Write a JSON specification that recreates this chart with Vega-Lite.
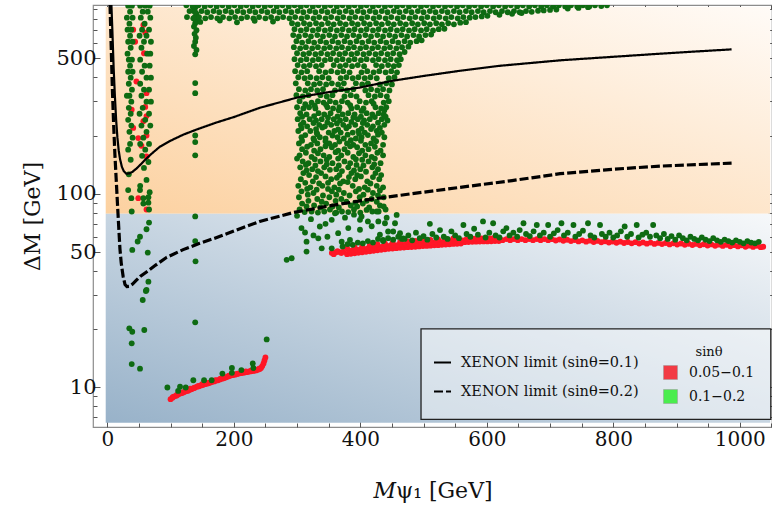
{
"$schema":"https://vega.github.io/schema/vega-lite/v6.json",
"width":679,"height":422,"autosize":"none",
"padding":{"left":93,"top":5,"right":0,"bottom":79},
"background":"white",
"config":{"view":{"stroke":"#8c8c8c","strokeWidth":1.2},"font":"DejaVu Serif",
"axis":{"domain":false,"grid":false,"tickColor":"#555","tickWidth":1,"labelFont":"DejaVu Serif","labelColor":"#111","titleFont":"DejaVu Serif","titleFontWeight":"normal","titleColor":"#111","labelOverlap":false,"labelFlush":false,"labelBound":false}},
"resolve":{"axis":{"x":"independent","y":"independent"}},
"datasets":{
"green":[
{"m":33,"d":937},{"m":39,"d":937},{"m":36,"d":872},{"m":31,"d":812},{"m":40,"d":812},{"m":35,"d":756},{"m":38,"d":704},{"m":32,"d":704},{"m":36,"d":655},{"m":33,"d":610},{"m":40,"d":610},{"m":37,"d":568},{"m":32,"d":529},{"m":39,"d":493},{"m":34,"d":493},{"m":36,"d":459},{"m":33,"d":427},{"m":40,"d":427},{"m":37,"d":398},{"m":34,"d":370},{"m":39,"d":345},{"m":35,"d":321},{"m":31,"d":321},{"m":38,"d":299},{"m":34,"d":278},{"m":37,"d":259},{"m":33,"d":241},{"m":38,"d":225},{"m":35,"d":209},{"m":40,"d":195},{"m":36,"d":181},{"m":33,"d":169},{"m":37,"d":150},{"m":34,"d":126},{"m":33,"d":104.5},{"m":38,"d":95},{"m":38.6,"d":81},
{"m":52,"d":937},{"m":60,"d":937},{"m":67,"d":937},{"m":56,"d":872},{"m":64,"d":872},{"m":53,"d":812},{"m":68,"d":812},{"m":59,"d":756},{"m":55,"d":704},{"m":66,"d":704},{"m":51,"d":655},{"m":62,"d":655},{"m":58,"d":610},{"m":69,"d":610},{"m":54,"d":568},{"m":63,"d":529},{"m":68,"d":529},{"m":52,"d":493},{"m":59,"d":459},{"m":67,"d":459},{"m":55,"d":427},{"m":62,"d":398},{"m":69,"d":398},{"m":52,"d":370},{"m":58,"d":345},{"m":66,"d":345},{"m":54,"d":321},{"m":62,"d":299},{"m":69,"d":299},{"m":56,"d":278},{"m":51,"d":259},{"m":66,"d":259},{"m":60,"d":241},{"m":54,"d":225},{"m":68,"d":225},{"m":62,"d":209},{"m":57,"d":195},{"m":66,"d":181},{"m":52,"d":181},{"m":60,"d":169},{"m":55,"d":157},{"m":65,"d":146},{"m":58,"d":136},{"m":62,"d":118},{"m":52,"d":110},{"m":67,"d":102},{"m":57,"d":89},{"m":66,"d":83},{"m":51.7,"d":104.5},{"m":57,"d":95},{"m":65,"d":90},{"m":65,"d":96},
{"m":34.8,"d":20.2},{"m":39.5,"d":19.4},{"m":38.6,"d":16.9},{"m":38.6,"d":13.2},{"m":51.7,"d":12.5},{"m":58.5,"d":19.8},{"m":56,"d":28.3},{"m":61,"d":31.5},{"m":62,"d":31.9},{"m":65,"d":35.2},{"m":64,"d":49.7},{"m":48,"d":56.7},{"m":51.7,"d":60},{"m":62,"d":65.6},{"m":66,"d":71},{"m":39.5,"d":51.3},
{"m":95,"d":10.0},{"m":112,"d":9.6},{"m":115,"d":10.1},{"m":124,"d":10.0},{"m":136,"d":10.9},{"m":153,"d":10.9},{"m":165,"d":10.9},{"m":182,"d":11.8},{"m":197,"d":12.6},{"m":197,"d":11.9},{"m":212,"d":12.3},{"m":230,"d":13.3},{"m":231,"d":12.6},{"m":252,"d":17.7},
{"m":139,"d":915},{"m":137,"d":880},{"m":141,"d":850},{"m":138,"d":815},{"m":140,"d":790},{"m":139,"d":760},{"m":137,"d":730},{"m":141,"d":700},{"m":138,"d":670},{"m":140,"d":640},{"m":139,"d":610},{"m":137,"d":580},{"m":141,"d":553},{"m":139,"d":525},{"m":139,"d":373},{"m":139,"d":331},{"m":139,"d":200},{"m":139,"d":185},{"m":139,"d":158},{"m":139,"d":76.4},{"m":139,"d":57},{"m":139.5,"d":44.8},{"m":139,"d":21.7},
{"m":125,"d":940},{"m":135,"d":928},{"m":144,"d":940},{"m":154,"d":928},{"m":163,"d":940},{"m":173,"d":928},{"m":182,"d":940},{"m":192,"d":928},{"m":201,"d":940},{"m":211,"d":928},{"m":220,"d":940},{"m":230,"d":928},{"m":239,"d":940},{"m":249,"d":928},{"m":258,"d":940},{"m":268,"d":928},{"m":277,"d":940},{"m":287,"d":928},{"m":296,"d":940},{"m":306,"d":928},{"m":315,"d":940},{"m":325,"d":928},{"m":334,"d":940},{"m":344,"d":928},{"m":353,"d":940},{"m":363,"d":928},{"m":372,"d":940},{"m":382,"d":928},{"m":391,"d":940},{"m":401,"d":928},{"m":410,"d":940},{"m":420,"d":928},{"m":429,"d":940},{"m":439,"d":928},{"m":448,"d":940},{"m":458,"d":928},{"m":467,"d":940},{"m":477,"d":928},{"m":486,"d":940},{"m":496,"d":928},{"m":505,"d":940},{"m":515,"d":928},{"m":524,"d":940},{"m":534,"d":928},{"m":543,"d":940},{"m":553,"d":928},{"m":562,"d":940},{"m":572,"d":928},{"m":581,"d":940},{"m":591,"d":928},{"m":600,"d":940},{"m":610,"d":928},{"m":619,"d":940},{"m":629,"d":928},{"m":638,"d":940},{"m":648,"d":928},{"m":657,"d":940},{"m":667,"d":928},{"m":676,"d":940},{"m":686,"d":928},{"m":695,"d":940},{"m":705,"d":928},{"m":714,"d":940},{"m":724,"d":928},{"m":733,"d":940},{"m":743,"d":928},{"m":752,"d":940},{"m":762,"d":928},{"m":771,"d":940},{"m":781,"d":932},{"m":790,"d":940},
{"m":130,"d":878},{"m":139,"d":866},{"m":149,"d":878},{"m":158,"d":866},{"m":168,"d":878},{"m":177,"d":866},{"m":187,"d":878},{"m":196,"d":866},{"m":206,"d":878},{"m":215,"d":866},{"m":225,"d":878},{"m":234,"d":866},{"m":244,"d":878},{"m":253,"d":866},{"m":263,"d":878},{"m":272,"d":866},{"m":282,"d":878},{"m":291,"d":866},{"m":301,"d":878},{"m":310,"d":866},{"m":320,"d":878},{"m":329,"d":866},{"m":339,"d":878},{"m":348,"d":866},{"m":358,"d":878},{"m":367,"d":866},{"m":377,"d":878},{"m":386,"d":866},{"m":396,"d":878},{"m":405,"d":866},{"m":415,"d":878},{"m":424,"d":866},{"m":434,"d":878},{"m":443,"d":866},{"m":453,"d":878},{"m":462,"d":866},{"m":472,"d":878},{"m":481,"d":866},{"m":491,"d":878},{"m":500,"d":866},{"m":510,"d":878},{"m":519,"d":866},{"m":529,"d":878},{"m":538,"d":866},{"m":548,"d":878},{"m":557,"d":866},{"m":567,"d":878},{"m":576,"d":866},{"m":586,"d":878},{"m":595,"d":866},{"m":605,"d":878},{"m":614,"d":866},{"m":624,"d":878},{"m":633,"d":866},{"m":643,"d":878},{"m":652,"d":866},{"m":662,"d":878},{"m":671,"d":870},{"m":681,"d":882},{"m":690,"d":885},{"m":700,"d":890},{"m":710,"d":895},{"m":728,"d":905},{"m":745,"d":912},{"m":760,"d":920},
{"m":126,"d":818},{"m":136,"d":806},{"m":145,"d":818},{"m":155,"d":806},{"m":164,"d":818},{"m":174,"d":806},{"m":183,"d":818},{"m":193,"d":806},{"m":202,"d":818},{"m":212,"d":806},{"m":221,"d":818},{"m":231,"d":806},{"m":240,"d":818},{"m":250,"d":806},{"m":259,"d":818},{"m":269,"d":806},{"m":278,"d":818},{"m":288,"d":806},{"m":297,"d":818},{"m":307,"d":806},{"m":316,"d":818},{"m":326,"d":806},{"m":335,"d":818},{"m":345,"d":806},{"m":354,"d":818},{"m":364,"d":806},{"m":373,"d":818},{"m":383,"d":806},{"m":392,"d":818},{"m":402,"d":806},{"m":411,"d":818},{"m":421,"d":806},{"m":430,"d":818},{"m":440,"d":806},{"m":449,"d":818},{"m":459,"d":806},{"m":468,"d":818},{"m":478,"d":806},{"m":487,"d":818},{"m":497,"d":806},{"m":506,"d":818},{"m":516,"d":806},{"m":525,"d":818},{"m":535,"d":806},{"m":544,"d":818},{"m":554,"d":806},{"m":563,"d":818},{"m":573,"d":812},{"m":582,"d":818},{"m":592,"d":824},{"m":601,"d":830},{"m":620,"d":840},{"m":640,"d":850},{"m":655,"d":858},
{"m":147,"d":772},{"m":205,"d":768},{"m":262,"d":775},{"m":178,"d":785},{"m":233,"d":783},
{"m":292,"d":760},{"m":301,"d":750},{"m":311,"d":760},{"m":320,"d":750},{"m":330,"d":760},{"m":339,"d":750},{"m":349,"d":760},{"m":358,"d":750},{"m":368,"d":760},{"m":377,"d":750},{"m":387,"d":760},{"m":396,"d":750},{"m":406,"d":760},{"m":415,"d":750},{"m":425,"d":760},{"m":434,"d":750},{"m":444,"d":760},{"m":453,"d":750},{"m":463,"d":760},{"m":472,"d":750},{"m":482,"d":760},{"m":491,"d":750},{"m":501,"d":760},{"m":510,"d":750},{"m":520,"d":760},{"m":529,"d":750},{"m":539,"d":760},{"m":548,"d":750},{"m":558,"d":765},{"m":567,"d":770},
{"m":296,"d":708},{"m":306,"d":698},{"m":315,"d":708},{"m":325,"d":698},{"m":334,"d":708},{"m":344,"d":698},{"m":353,"d":708},{"m":363,"d":698},{"m":372,"d":708},{"m":382,"d":698},{"m":391,"d":708},{"m":401,"d":698},{"m":410,"d":708},{"m":420,"d":698},{"m":429,"d":708},{"m":439,"d":698},{"m":448,"d":708},{"m":458,"d":698},{"m":467,"d":708},{"m":477,"d":698},{"m":486,"d":708},{"m":496,"d":698},{"m":505,"d":708},{"m":515,"d":698},{"m":524,"d":708},{"m":533,"d":712},
{"m":294,"d":660},{"m":303,"d":650},{"m":313,"d":660},{"m":322,"d":650},{"m":332,"d":660},{"m":341,"d":650},{"m":351,"d":660},{"m":360,"d":650},{"m":370,"d":660},{"m":379,"d":650},{"m":389,"d":660},{"m":398,"d":650},{"m":408,"d":660},{"m":417,"d":650},{"m":427,"d":660},{"m":436,"d":650},{"m":446,"d":660},{"m":455,"d":650},{"m":465,"d":660},{"m":474,"d":650},{"m":484,"d":660},{"m":493,"d":650},{"m":503,"d":660},{"m":512,"d":665},
{"m":299,"d":614},{"m":308,"d":604},{"m":318,"d":614},{"m":327,"d":604},{"m":337,"d":614},{"m":346,"d":604},{"m":356,"d":614},{"m":365,"d":604},{"m":375,"d":614},{"m":384,"d":604},{"m":394,"d":614},{"m":403,"d":604},{"m":413,"d":614},{"m":422,"d":604},{"m":432,"d":614},{"m":441,"d":604},{"m":451,"d":614},{"m":460,"d":604},{"m":470,"d":614},{"m":479,"d":604},{"m":489,"d":614},{"m":497,"d":620},
{"m":295,"d":572},{"m":305,"d":564},{"m":314,"d":572},{"m":324,"d":564},{"m":333,"d":572},{"m":343,"d":564},{"m":352,"d":572},{"m":362,"d":564},{"m":371,"d":572},{"m":381,"d":564},{"m":390,"d":572},{"m":400,"d":564},{"m":409,"d":572},{"m":419,"d":564},{"m":428,"d":572},{"m":438,"d":564},{"m":447,"d":572},{"m":457,"d":564},{"m":466,"d":572},{"m":476,"d":575},
{"m":300,"d":532},{"m":310,"d":526},{"m":319,"d":532},{"m":329,"d":526},{"m":338,"d":532},{"m":348,"d":526},{"m":357,"d":532},{"m":367,"d":526},{"m":376,"d":532},{"m":386,"d":526},{"m":395,"d":532},{"m":405,"d":526},{"m":414,"d":532},{"m":424,"d":526},{"m":433,"d":532},{"m":443,"d":526},{"m":452,"d":532},{"m":462,"d":526},{"m":470,"d":540},
{"m":296,"d":496},{"m":306,"d":490},{"m":315,"d":496},{"m":325,"d":490},{"m":334,"d":496},{"m":344,"d":490},{"m":353,"d":496},{"m":363,"d":490},{"m":372,"d":496},{"m":382,"d":490},{"m":391,"d":496},{"m":401,"d":490},{"m":410,"d":496},{"m":420,"d":490},{"m":429,"d":496},{"m":439,"d":490},{"m":448,"d":496},{"m":458,"d":490},{"m":464,"d":496},
{"m":301,"d":462},{"m":311,"d":456},{"m":320,"d":462},{"m":330,"d":456},{"m":339,"d":462},{"m":358,"d":462},{"m":368,"d":456},{"m":377,"d":462},{"m":387,"d":456},{"m":396,"d":462},{"m":406,"d":456},{"m":425,"d":462},{"m":434,"d":456},{"m":444,"d":462},{"m":453,"d":456},{"m":461,"d":462},
{"m":297,"d":430},{"m":307,"d":424},{"m":316,"d":430},{"m":335,"d":430},{"m":345,"d":424},{"m":354,"d":430},{"m":364,"d":424},{"m":373,"d":430},{"m":383,"d":424},{"m":402,"d":424},{"m":411,"d":430},{"m":421,"d":424},{"m":430,"d":430},{"m":440,"d":424},{"m":449,"d":430},{"m":458,"d":424},
{"m":302,"d":400},{"m":312,"d":395},{"m":321,"d":400},{"m":331,"d":395},{"m":340,"d":400},{"m":350,"d":395},{"m":369,"d":395},{"m":378,"d":400},{"m":388,"d":395},{"m":397,"d":400},{"m":407,"d":395},{"m":416,"d":400},{"m":426,"d":395},{"m":445,"d":395},{"m":454,"d":400},
{"m":298,"d":372},{"m":317,"d":372},{"m":327,"d":367},{"m":336,"d":372},{"m":346,"d":367},{"m":355,"d":372},{"m":365,"d":367},{"m":374,"d":372},{"m":393,"d":372},{"m":403,"d":367},{"m":412,"d":372},{"m":431,"d":367},{"m":441,"d":372},{"m":450,"d":367},
{"m":303,"d":347},{"m":313,"d":342},{"m":322,"d":347},{"m":332,"d":342},{"m":341,"d":347},{"m":360,"d":342},{"m":370,"d":347},{"m":379,"d":342},{"m":389,"d":347},{"m":408,"d":342},{"m":417,"d":347},{"m":427,"d":342},{"m":436,"d":347},{"m":446,"d":342},
{"m":299,"d":323},{"m":309,"d":318},{"m":318,"d":323},{"m":337,"d":323},{"m":347,"d":318},{"m":356,"d":323},{"m":375,"d":318},{"m":385,"d":323},{"m":394,"d":318},{"m":413,"d":323},{"m":423,"d":318},{"m":432,"d":323},{"m":442,"d":318},
{"m":304,"d":301},{"m":323,"d":296},{"m":333,"d":301},{"m":342,"d":296},{"m":352,"d":301},{"m":361,"d":296},{"m":371,"d":301},{"m":380,"d":296},{"m":399,"d":301},{"m":409,"d":296},{"m":418,"d":301},{"m":437,"d":296},{"m":445,"d":301},
{"m":300,"d":280},{"m":310,"d":276},{"m":319,"d":280},{"m":329,"d":276},{"m":348,"d":280},{"m":357,"d":276},{"m":367,"d":280},{"m":386,"d":276},{"m":395,"d":280},{"m":405,"d":276},{"m":424,"d":280},{"m":433,"d":276},{"m":441,"d":280},
{"m":305,"d":261},{"m":315,"d":257},{"m":334,"d":261},{"m":343,"d":257},{"m":353,"d":261},{"m":372,"d":257},{"m":381,"d":261},{"m":391,"d":257},{"m":410,"d":261},{"m":419,"d":257},{"m":429,"d":261},{"m":437,"d":257},
{"m":301,"d":243},{"m":320,"d":243},{"m":330,"d":239},{"m":339,"d":243},{"m":358,"d":243},{"m":368,"d":239},{"m":377,"d":243},{"m":396,"d":243},{"m":406,"d":239},{"m":415,"d":243},{"m":434,"d":243},{"m":443,"d":239},
{"m":306,"d":227},{"m":316,"d":223},{"m":335,"d":227},{"m":344,"d":223},{"m":354,"d":227},{"m":373,"d":227},{"m":382,"d":223},{"m":392,"d":227},{"m":411,"d":227},{"m":420,"d":223},{"m":438,"d":227},
{"m":302,"d":211},{"m":321,"d":211},{"m":331,"d":207},{"m":350,"d":207},{"m":359,"d":211},{"m":369,"d":207},{"m":388,"d":207},{"m":397,"d":211},{"m":407,"d":207},{"m":426,"d":211},{"m":434,"d":207},
{"m":307,"d":196},{"m":326,"d":193},{"m":336,"d":196},{"m":345,"d":193},{"m":364,"d":196},{"m":374,"d":193},{"m":393,"d":193},{"m":402,"d":196},{"m":421,"d":193},{"m":438,"d":196},
{"m":303,"d":182},{"m":322,"d":179},{"m":332,"d":182},{"m":351,"d":182},{"m":360,"d":179},{"m":379,"d":182},{"m":389,"d":179},{"m":408,"d":179},{"m":417,"d":182},{"m":436,"d":179},
{"m":308,"d":170},{"m":327,"d":167},{"m":337,"d":170},{"m":365,"d":167},{"m":375,"d":170},{"m":403,"d":167},{"m":413,"d":170},{"m":432,"d":167},
{"m":304,"d":158},{"m":323,"d":155},{"m":342,"d":158},{"m":351,"d":155},{"m":370,"d":158},{"m":389,"d":155},{"m":408,"d":158},{"m":418,"d":155},{"m":436,"d":158},
{"m":309,"d":147},{"m":318,"d":144},{"m":337,"d":147},{"m":356,"d":144},{"m":375,"d":147},{"m":384,"d":144},{"m":413,"d":147},{"m":432,"d":144},
{"m":305,"d":137},{"m":324,"d":134},{"m":343,"d":137},{"m":362,"d":134},{"m":381,"d":137},{"m":400,"d":134},{"m":419,"d":137},{"m":428,"d":134},
{"m":310,"d":128},{"m":319,"d":125},{"m":338,"d":128},{"m":367,"d":125},{"m":386,"d":128},{"m":395,"d":125},{"m":424,"d":128},{"m":433,"d":125},
{"m":306,"d":119},{"m":325,"d":116},{"m":354,"d":119},{"m":373,"d":116},{"m":392,"d":119},{"m":411,"d":116},{"m":430,"d":119},
{"m":302,"d":110},{"m":321,"d":108},{"m":340,"d":110},{"m":359,"d":108},{"m":388,"d":110},{"m":407,"d":108},{"m":426,"d":110},{"m":436,"d":108},
{"m":307,"d":103},{"m":326,"d":101},{"m":355,"d":103},{"m":374,"d":101},{"m":393,"d":103},{"m":420,"d":101},
{"m":303,"d":96},{"m":332,"d":94},{"m":351,"d":96},{"m":370,"d":94},{"m":399,"d":96},{"m":418,"d":94},{"m":437,"d":96},
{"m":308,"d":89},{"m":327,"d":87},{"m":346,"d":89},{"m":385,"d":87},{"m":404,"d":89},{"m":431,"d":87},
{"m":304,"d":83},{"m":323,"d":81},{"m":352,"d":83},{"m":371,"d":81},{"m":390,"d":83},{"m":419,"d":81},{"m":440,"d":83},
{"m":313,"d":290},{"m":328,"d":285},{"m":346,"d":288},{"m":366,"d":270},{"m":384,"d":287},{"m":402,"d":268},{"m":421,"d":292},{"m":438,"d":270},
{"m":308,"d":250},{"m":327,"d":252},{"m":349,"d":248},{"m":364,"d":251},{"m":389,"d":248},{"m":401,"d":250},{"m":423,"d":249},{"m":440,"d":250},
{"m":310,"d":233},{"m":326,"d":232},{"m":348,"d":234},{"m":363,"d":231},{"m":386,"d":235},{"m":404,"d":232},{"m":428,"d":233},
{"m":307,"d":218},{"m":330,"d":216},{"m":340,"d":220},{"m":365,"d":215},{"m":378,"d":218},{"m":402,"d":217},{"m":417,"d":216},{"m":431,"d":219},
{"m":313,"d":201},{"m":332,"d":203},{"m":356,"d":200},{"m":380,"d":202},{"m":398,"d":204},{"m":412,"d":201},{"m":428,"d":202},
{"m":308,"d":188},{"m":327,"d":189},{"m":345,"d":187},{"m":367,"d":186},{"m":385,"d":189},{"m":401,"d":188},{"m":425,"d":187},
{"m":316,"d":175},{"m":345,"d":176},{"m":355,"d":174},{"m":384,"d":176},{"m":395,"d":174},{"m":423,"d":175},
{"m":314,"d":163},{"m":333,"d":162},{"m":361,"d":164},{"m":380,"d":163},{"m":398,"d":162},{"m":427,"d":163},
{"m":300,"d":152},{"m":328,"d":151},{"m":347,"d":150},{"m":365,"d":152},{"m":393,"d":151},{"m":403,"d":150},{"m":423,"d":152},
{"m":314,"d":141},{"m":329,"d":140},{"m":347,"d":142},{"m":366,"d":140},{"m":394,"d":141},{"m":405,"d":140},{"m":422,"d":142},
{"m":315,"d":132},{"m":333,"d":131},{"m":352,"d":133},{"m":371,"d":131},{"m":390,"d":132},{"m":409,"d":130},
{"m":330,"d":122},{"m":345,"d":123},{"m":363,"d":121},{"m":382,"d":122},{"m":401,"d":123},{"m":420,"d":122},
{"m":313,"d":114},{"m":335,"d":113},{"m":349,"d":114},{"m":368,"d":113},{"m":380,"d":115},{"m":416,"d":113},
{"m":316,"d":106},{"m":331,"d":105},{"m":349,"d":106},{"m":366,"d":105},{"m":398,"d":106},{"m":412,"d":105},{"m":431,"d":104},
{"m":317,"d":99},{"m":341,"d":98},{"m":362,"d":99},{"m":383,"d":98},{"m":405,"d":99},{"m":428,"d":98},
{"m":318,"d":92},{"m":339,"d":91},{"m":361,"d":92},{"m":378,"d":91},{"m":392,"d":90},{"m":410,"d":92},{"m":426,"d":91},
{"m":315,"d":86},{"m":337,"d":85},{"m":356,"d":86},{"m":366,"d":85},{"m":395,"d":86},{"m":414,"d":85},{"m":437,"d":86},
{"m":312,"d":80.5},{"m":333,"d":80},{"m":343,"d":81},{"m":362,"d":80},{"m":381,"d":80.5},{"m":400,"d":80},{"m":429,"d":81},
{"m":307,"d":66.5},{"m":312.6,"d":63.1},{"m":336,"d":67.8},{"m":333.6,"d":58.9},{"m":339,"d":52.3},{"m":315,"d":56.6},{"m":315,"d":50.3},{"m":283.6,"d":45.6},{"m":291.5,"d":46.5},{"m":354.8,"d":52.3},{"m":365,"d":62.6},{"m":370.6,"d":56.6},{"m":354.8,"d":73.4},{"m":375.8,"d":75.3},{"m":399.5,"d":73.4},{"m":399.5,"d":65.2},{"m":381,"d":66.5},{"m":383.7,"d":57.8},{"m":402,"d":76.4},{"m":428.5,"d":72},{"m":441.7,"d":75.3},{"m":439,"d":70.5},{"m":454.9,"d":70.5},{"m":457.5,"d":77.8},{"m":452,"d":63.9},{"m":444,"d":63.9},{"m":431,"d":61.5},{"m":436,"d":57.8},{"m":462.8,"d":62.6},{"m":468,"d":58.9},{"m":410,"d":82.6},{"m":360,"d":79.4},{"m":426,"d":81},{"m":322,"d":74},{"m":345,"d":70},{"m":390,"d":78},{"m":418,"d":68},{"m":326,"d":61},{"m":348,"d":60},{"m":300,"d":77},{"m":412,"d":72},
{"m":372,"d":53.5},{"m":380,"d":55},{"m":388,"d":54.5},{"m":396,"d":56},{"m":404,"d":55.5},{"m":412,"d":57},{"m":420,"d":56},{"m":428,"d":58.5},{"m":436,"d":57},{"m":444,"d":59},{"m":452,"d":58},{"m":460,"d":60},{"m":466,"d":58.5},
{"m":470,"d":58.5},{"m":476,"d":61},{"m":482,"d":57.5},{"m":488,"d":63},{"m":494,"d":59},{"m":500,"d":60.5},{"m":506,"d":58},{"m":510,"d":70},{"m":514,"d":62},{"m":520,"d":59.5},{"m":526,"d":65},{"m":532,"d":60},{"m":538,"d":58.5},{"m":544,"d":64},{"m":550,"d":61},{"m":556,"d":59},{"m":563,"d":69},{"m":568,"d":62},{"m":574,"d":60},{"m":580,"d":66},{"m":586,"d":61.5},{"m":594,"d":72},{"m":598,"d":59.5},{"m":604,"d":63},{"m":610,"d":70.5},{"m":614,"d":61},{"m":620,"d":59.5},{"m":626,"d":64},{"m":631,"d":66.5},{"m":636,"d":61},{"m":642,"d":63},{"m":648,"d":60},{"m":652,"d":65},{"m":658,"d":70.5},{"m":662,"d":62},{"m":668,"d":60.5},{"m":674,"d":64},{"m":679,"d":69},{"m":684,"d":61},{"m":690,"d":63},{"m":697,"d":69},{"m":700,"d":60},{"m":706,"d":62.5},{"m":712,"d":65},{"m":718,"d":70.5},{"m":722,"d":61},{"m":728,"d":63},{"m":737,"d":69},{"m":740,"d":60},{"m":746,"d":62},{"m":752,"d":64.5},{"m":760,"d":70.5},{"m":764,"d":61},{"m":770,"d":59.5},{"m":779,"d":69},{"m":782,"d":62},{"m":788,"d":60},{"m":794,"d":63},{"m":800,"d":59.5},{"m":806,"d":61},{"m":812,"d":64},{"m":818,"d":67.8},{"m":822,"d":60},{"m":828,"d":62},{"m":837,"d":69},{"m":840,"d":59.5},{"m":846,"d":61.5},{"m":852,"d":63},{"m":858,"d":60},{"m":863,"d":69},{"m":868,"d":61},{"m":874,"d":59},{"m":880,"d":62},{"m":886,"d":58.5},{"m":892,"d":60.5},{"m":898,"d":58},{"m":904,"d":61},{"m":910,"d":59},{"m":916,"d":57.5},{"m":922,"d":60},{"m":928,"d":58.5},{"m":934,"d":57.5},{"m":940,"d":59.5},{"m":946,"d":58},{"m":952,"d":57},{"m":958,"d":59},{"m":964,"d":57.5},{"m":970,"d":56.5},{"m":976,"d":58},{"m":982,"d":57},{"m":988,"d":56},{"m":994,"d":57.5},{"m":1000,"d":56.5},{"m":1006,"d":55.5},{"m":1012,"d":57},{"m":1018,"d":56},{"m":1024,"d":55.5},{"m":1030,"d":56.5}
],
"red":[
{"m":100,"d":8.7},{"m":103,"d":8.85},{"m":106,"d":9.0},{"m":109,"d":9.05},{"m":112,"d":9.2},{"m":115,"d":9.3},{"m":118,"d":9.35},{"m":121,"d":9.45},{"m":124,"d":9.55},{"m":127,"d":9.6},{"m":130,"d":9.7},{"m":133,"d":9.8},{"m":136,"d":9.9},{"m":139,"d":10.0},{"m":142,"d":10.1},{"m":145,"d":10.15},{"m":148,"d":10.25},{"m":151,"d":10.3},{"m":154,"d":10.4},{"m":157,"d":10.45},{"m":160,"d":10.5},{"m":163,"d":10.6},{"m":166,"d":10.7},{"m":169,"d":10.75},{"m":172,"d":10.85},{"m":175,"d":10.9},{"m":178,"d":11.0},{"m":181,"d":11.1},{"m":184,"d":11.15},{"m":187,"d":11.25},{"m":190,"d":11.35},{"m":193,"d":11.45},{"m":196,"d":11.55},{"m":199,"d":11.6},{"m":202,"d":11.65},{"m":205,"d":11.75},{"m":208,"d":11.8},{"m":211,"d":11.85},{"m":214,"d":11.9},{"m":217,"d":11.95},{"m":220,"d":12.0},{"m":223,"d":12.05},{"m":226,"d":12.1},{"m":229,"d":12.15},{"m":232,"d":12.2},{"m":235,"d":12.25},{"m":238,"d":12.35},{"m":241,"d":12.45},{"m":243,"d":12.6},{"m":245,"d":12.9},{"m":247,"d":13.3},{"m":248.5,"d":13.8},{"m":250,"d":14.3},
{"m":104,"d":8.95},{"m":110,"d":9.15},{"m":117,"d":9.4},{"m":123,"d":9.6},{"m":131,"d":9.85},{"m":137,"d":9.95},{"m":144,"d":10.2},{"m":150,"d":10.4},{"m":158,"d":10.55},{"m":165,"d":10.75},{"m":171,"d":10.9},{"m":179,"d":11.1},{"m":186,"d":11.3},{"m":192,"d":11.5},{"m":198,"d":11.7},{"m":206,"d":11.8},{"m":213,"d":12.0},{"m":219,"d":12.1},{"m":227,"d":12.2},{"m":234,"d":12.35},{"m":240,"d":12.5},
{"m":41,"d":704},{"m":44,"d":610},{"m":57,"d":745},{"m":60,"d":680},{"m":46,"d":380},{"m":62,"d":331},{"m":60,"d":281},{"m":62,"d":252},{"m":57,"d":237},{"m":41,"d":219},{"m":62,"d":200},{"m":62,"d":156},{"m":49,"d":194},{"m":49,"d":95},{"m":62,"d":83},{"m":54,"d":177},{"m":58,"d":532},{"m":38.6,"d":272},
{"m":355,"d":49.5},{"m":361,"d":49.8},{"m":367,"d":50.0},{"m":373,"d":50.3},{"m":358,"d":48.8},{"m":364,"d":50.6},{"m":370,"d":49.4},
{"m":379,"d":48.8},{"m":385,"d":49.0},{"m":391,"d":49.3},{"m":397,"d":49.6},{"m":403,"d":49.9},{"m":409,"d":50.2},{"m":415,"d":50.5},{"m":421,"d":50.8},{"m":427,"d":51.1},{"m":433,"d":51.4},{"m":439,"d":51.7},{"m":445,"d":52.0},{"m":451,"d":52.2},{"m":457,"d":52.4},{"m":463,"d":52.6},{"m":469,"d":52.8},{"m":475,"d":53.0},{"m":481,"d":53.1},{"m":487,"d":53.3},{"m":493,"d":53.5},{"m":499,"d":53.7},{"m":505,"d":53.8},{"m":511,"d":54.0},{"m":517,"d":54.2},{"m":523,"d":54.3},{"m":529,"d":54.5},{"m":535,"d":54.7},{"m":541,"d":54.9},{"m":547,"d":55.1},{"m":553,"d":55.2},{"m":559,"d":55.4},
{"m":382,"d":50.9},{"m":388,"d":51.1},{"m":394,"d":51.4},{"m":400,"d":51.7},{"m":406,"d":52.0},{"m":412,"d":52.3},{"m":418,"d":52.6},{"m":424,"d":52.9},{"m":430,"d":53.2},{"m":436,"d":53.5},{"m":442,"d":53.8},{"m":448,"d":54.1},{"m":454,"d":54.3},{"m":460,"d":54.5},{"m":466,"d":54.7},{"m":472,"d":54.9},{"m":478,"d":55.1},{"m":484,"d":55.2},{"m":490,"d":55.4},{"m":496,"d":55.6},{"m":502,"d":55.7},{"m":508,"d":55.9},{"m":514,"d":56.1},{"m":520,"d":56.2},{"m":526,"d":56.4},{"m":532,"d":56.6},{"m":538,"d":56.8},{"m":544,"d":57.0},{"m":550,"d":57.1},{"m":556,"d":57.3},{"m":562,"d":57.4},
{"m":379,"d":52.6},{"m":391,"d":53.1},{"m":403,"d":53.7},{"m":415,"d":54.3},{"m":427,"d":54.9},{"m":439,"d":55.5},{"m":451,"d":56.0},{"m":463,"d":56.4},{"m":475,"d":56.8},{"m":487,"d":57.1},{"m":499,"d":57.5},{"m":511,"d":57.8},{"m":523,"d":58.1},{"m":535,"d":58.5},{"m":547,"d":58.9},
{"m":565,"d":56.3},{"m":571,"d":56.4},{"m":577,"d":56.5},{"m":583,"d":56.6},{"m":589,"d":56.7},{"m":595,"d":56.8},{"m":601,"d":56.8},{"m":607,"d":56.9},{"m":613,"d":57.0},{"m":619,"d":57.0},{"m":568,"d":58.4},{"m":574,"d":58.5},{"m":580,"d":58.6},{"m":586,"d":58.7},{"m":592,"d":58.8},{"m":598,"d":58.8},{"m":604,"d":58.9},{"m":610,"d":59.0},{"m":616,"d":59.0},
{"m":625,"d":57.6},{"m":631,"d":58.4},{"m":637,"d":57.6},{"m":643,"d":58.4},{"m":649,"d":57.6},{"m":655,"d":58.4},{"m":661,"d":57.6},{"m":667,"d":58.4},{"m":673,"d":57.6},{"m":679,"d":58.4},{"m":685,"d":57.6},{"m":691,"d":58.4},{"m":697,"d":57.6},{"m":703,"d":58.3},{"m":709,"d":57.4},{"m":715,"d":58.1},{"m":721,"d":57.2},{"m":727,"d":57.9},{"m":733,"d":57.0},{"m":739,"d":57.7},{"m":745,"d":56.8},{"m":751,"d":57.5},{"m":757,"d":56.6},{"m":763,"d":57.3},{"m":769,"d":56.4},{"m":775,"d":57.1},{"m":781,"d":56.2},{"m":787,"d":56.9},{"m":793,"d":56.0},{"m":799,"d":56.7},{"m":805,"d":55.9},{"m":811,"d":56.6},{"m":817,"d":55.7},{"m":823,"d":56.4},{"m":829,"d":55.5},{"m":835,"d":56.3},{"m":841,"d":55.4},{"m":847,"d":56.1},{"m":853,"d":55.3},{"m":859,"d":56.0},{"m":865,"d":55.1},{"m":871,"d":55.8},{"m":877,"d":55.0},{"m":883,"d":55.7},{"m":889,"d":54.8},{"m":895,"d":55.5},{"m":901,"d":54.7},{"m":907,"d":55.4},{"m":913,"d":54.5},{"m":919,"d":55.2},{"m":925,"d":54.4},{"m":931,"d":55.1},{"m":937,"d":54.2},{"m":943,"d":54.9},{"m":949,"d":54.1},{"m":955,"d":54.8},{"m":961,"d":53.9},{"m":967,"d":54.6},{"m":973,"d":53.8},{"m":979,"d":54.5},{"m":985,"d":53.6},{"m":991,"d":54.3},{"m":997,"d":53.5},{"m":1003,"d":54.2},{"m":1009,"d":53.3},{"m":1015,"d":54.0},{"m":1021,"d":53.2},{"m":1027,"d":53.9},{"m":1033,"d":53.0},{"m":1037,"d":53.3}
],
"solid":[
{"m":6.5,"d":944},{"m":8,"d":700},{"m":10,"d":450},{"m":12,"d":320},{"m":14,"d":240},{"m":16,"d":195},{"m":18,"d":168},{"m":20,"d":152},{"m":23,"d":138},{"m":26,"d":131},{"m":30,"d":127},{"m":35,"d":127.5},{"m":40,"d":130},{"m":46,"d":135},{"m":52,"d":141},{"m":60,"d":150},{"m":70,"d":161},{"m":83,"d":175},{"m":100,"d":188},{"m":120,"d":202},{"m":140,"d":214},{"m":170,"d":232},{"m":200,"d":249},{"m":241,"d":278},{"m":300,"d":314},{"m":350,"d":335},{"m":400,"d":354},{"m":450,"d":383},{"m":500,"d":406},{"m":558,"d":432},{"m":620,"d":458},{"m":716,"d":489},{"m":800,"d":510},{"m":874,"d":529},{"m":930,"d":543},{"m":987,"d":557}
],
"dashed":[
{"m":4.3,"d":944},{"m":6,"d":600},{"m":8,"d":350},{"m":10,"d":230},{"m":12,"d":160},{"m":14,"d":120},{"m":16,"d":90},{"m":18,"d":68},{"m":20,"d":52},{"m":22,"d":44},{"m":25,"d":37.5},{"m":28,"d":34},{"m":31,"d":33.2},{"m":35,"d":33.3},{"m":40,"d":34.2},{"m":46,"d":35.8},{"m":52,"d":37.4},{"m":62,"d":39.5},{"m":75,"d":42.5},{"m":94,"d":47},{"m":120,"d":51.5},{"m":146,"d":55.5},{"m":170,"d":59},{"m":199,"d":64},{"m":241,"d":72},{"m":294,"d":80},{"m":350,"d":86.5},{"m":400,"d":92},{"m":480,"d":100},{"m":558,"d":108},{"m":640,"d":117},{"m":716,"d":127},{"m":800,"d":134},{"m":874,"d":139},{"m":930,"d":141.5},{"m":987,"d":144}
],
"legendkeys":[{"s":"0.05−0.1"},{"s":"0.1−0.2"}]
},
"layer":[
{"data":{"values":[{}]},
"mark":{"type":"rect","clip":true,"fill":{"gradient":"linear","x1":0,"y1":1,"x2":1,"y2":0,"stops":[{"offset":0,"color":"#fcd1a0"},{"offset":1,"color":"#fffbf7"}]}},
"encoding":{
"x":{"datum":-2.5,"type":"quantitative","scale":{"domain":[-22.6,1050.9],"nice":false,"zero":false},
"axis":{"orient":"top","labels":false,"title":null,"values":[0,50,100,150,200,250,300,350,400,450,500,550,600,650,700,750,800,850,900,950,1000,1050],"tickSize":{"condition":{"test":"datum.value % 200 === 0","value":-7},"value":-4}}},
"x2":{"datum":1048},
"y":{"datum":79,"type":"quantitative","scale":{"type":"log","domain":[6.25,944],"nice":false},
"axis":{"orient":"right","labels":false,"title":null,"values":[7,8,9,10,20,30,40,50,60,70,80,90,100,200,300,400,500,600,700,800,900],"tickSize":{"condition":{"test":"indexof([10,50,100,500], datum.value) >= 0","value":-7},"value":-4}}},
"y2":{"datum":922}}},
{"data":{"values":[{}]},
"mark":{"type":"rect","clip":true,"fill":{"gradient":"linear","x1":0,"y1":1,"x2":1,"y2":0,"stops":[{"offset":0,"color":"#98b2c9"},{"offset":1,"color":"#f6f8fa"}]}},
"encoding":{"x":{"datum":-2.5,"type":"quantitative","axis":null},"x2":{"datum":1048},"y":{"datum":6.58,"type":"quantitative","axis":null},"y2":{"datum":79}}},
{"data":{"name":"red"},
"mark":{"type":"circle","size":34,"opacity":1,"color":"#ff1626","clip":true},
"encoding":{
"x":{"field":"m","type":"quantitative","axis":{"orient":"bottom","title":"𝑀ψ₁ [GeV]","titleFontSize":22,"titlePadding":28,"labelFontSize":20,"labelPadding":9,"values":[0,50,100,150,200,250,300,350,400,450,500,550,600,650,700,750,800,850,900,950,1000,1050],"labelExpr":"datum.value % 200 === 0 ? format(datum.value, 'd') : ''","tickSize":{"condition":{"test":"datum.value % 200 === 0","value":-7},"value":-4}}},
"y":{"field":"d","type":"quantitative","axis":{"orient":"left","title":"ΔM [GeV]","titleFontSize":22,"titlePadding":11,"labelFontSize":21,"labelPadding":4,"values":[7,8,9,10,20,30,40,50,60,70,80,90,100,200,300,400,500,600,700,800,900],"labelExpr":"indexof([10,50,100,500], datum.value) >= 0 ? format(datum.value, 'd') : ''","tickSize":{"condition":{"test":"indexof([10,50,100,500], datum.value) >= 0","value":-7},"value":-4}}}}},
{"data":{"name":"green"},
"mark":{"type":"circle","size":34,"opacity":1,"color":"#0e6b12","clip":true},
"encoding":{
"x":{"field":"m","type":"quantitative","axis":null},
"y":{"field":"d","type":"quantitative","axis":null}}},
{"data":{"name":"legendkeys"},
"mark":{"type":"square","size":0,"opacity":0},
"encoding":{
"color":{"field":"s","type":"nominal","scale":{"domain":["0.05−0.1","0.1−0.2"],"range":["#f23b45","#4aed4e"]},
"legend":{"orient":"none","legendX":570,"legendY":341,"title":"sinθ","titleFontSize":13,"titleFontWeight":"normal","titleFont":"DejaVu Serif","titleColor":"#111","titleAnchor":"middle","titleAlign":"center","titlePadding":6,"symbolType":"square","symbolSize":196,"symbolOpacity":1,"labelFont":"DejaVu Serif","labelFontSize":14,"labelColor":"#111","labelOffset":11,"rowPadding":7,"padding":0,"symbolStrokeWidth":0.5,"symbolStrokeColor":"#999"}}}},
{"data":{"name":"solid"},
"mark":{"type":"line","color":"black","strokeWidth":2.2,"clip":true},
"encoding":{
"x":{"field":"m","type":"quantitative","axis":null},
"y":{"field":"d","type":"quantitative","axis":null},
"strokeDash":{"datum":"XENON limit (sinθ=0.1)","type":"nominal","scale":{"domain":["XENON limit (sinθ=0.1)","XENON limit (sinθ=0.2)"],"range":[[1,0],[9,3]]},
"legend":{"orient":"none","legendX":340,"legendY":348,"title":null,"symbolType":"stroke","symbolSize":289,"symbolStrokeColor":"black","symbolStrokeWidth":2,"labelFont":"DejaVu Serif","labelFontSize":14.5,"labelColor":"#111","labelOffset":9,"labelLimit":300,"rowPadding":13,"padding":0}}}},
{"data":{"name":"dashed"},
"mark":{"type":"line","color":"black","strokeWidth":3.2,"clip":true},
"encoding":{
"x":{"field":"m","type":"quantitative","axis":null},
"y":{"field":"d","type":"quantitative","axis":null},
"strokeDash":{"datum":"XENON limit (sinθ=0.2)","type":"nominal",
"legend":{"orient":"none","legendX":340,"legendY":348,"title":null,"symbolType":"stroke","symbolSize":289,"symbolStrokeColor":"black","symbolStrokeWidth":2,"labelFont":"DejaVu Serif","labelFontSize":14.5,"labelColor":"#111","labelOffset":9,"labelLimit":300,"rowPadding":13,"padding":0}}}},
{"data":{"values":[{}]},
"mark":{"type":"rect","fill":"white","fillOpacity":0.45,"stroke":"#222","strokeWidth":1.3,"clip":true},
"encoding":{"x":{"datum":496,"type":"quantitative","axis":null},"x2":{"datum":1049},"y":{"datum":6.85,"type":"quantitative","axis":null},"y2":{"datum":20.05}}}
]
}
